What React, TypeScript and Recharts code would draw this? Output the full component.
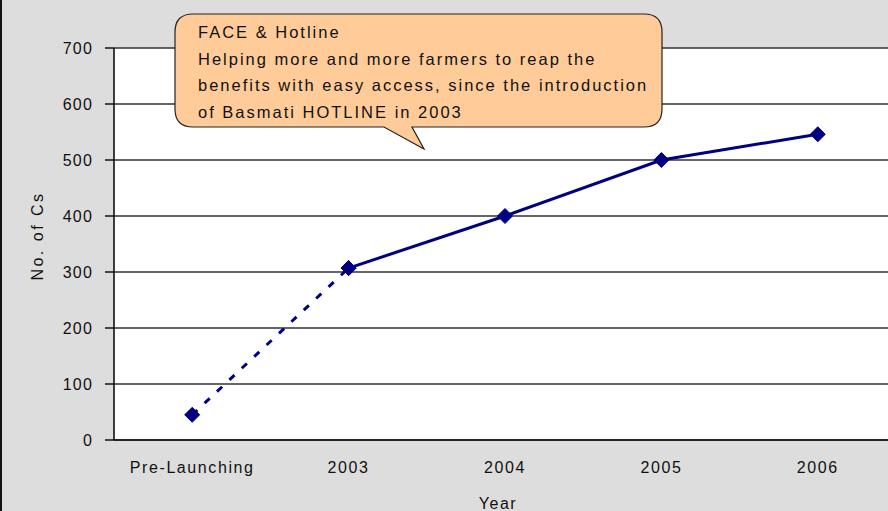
import React from "react";
import { LineChart, Line, XAxis, YAxis, CartesianGrid, Customized } from "recharts";

const categories = ["Pre-Launching", "2003", "2004", "2005", "2006"];
const farmers = [45, 307, 400, 500, 546];
const yTicks = [0, 100, 200, 300, 400, 500, 600, 700];
const calloutLines = [
  "FACE & Hotline",
  "Helping more and more farmers to reap the",
  "benefits with easy access, since the introduction",
  "of Basmati HOTLINE in 2003",
];

const NAVY = "#000080";
const FONT = "'Liberation Sans', Arial, sans-serif";

// index 1 (2003) is the launch: dashed before it, solid after
const data = categories.map((c, i) => ({
  x: i + 0.5,
  name: c,
  before: i <= 1 ? farmers[i] : null,
  after: i >= 1 ? farmers[i] : null,
}));

const Diamond = (props: any) => {
  const { cx, cy, value } = props;
  if (value == null || cx == null) return null;
  const r = 7.5;
  return (
    <path
      d={`M${cx},${cy - r}L${cx + r},${cy}L${cx},${cy + r}L${cx - r},${cy}Z`}
      fill={NAVY}
      stroke={NAVY}
    />
  );
};

const Callout = () => (
  <g>
    <path
      d="M191,14 L642,14 Q660,14 660,32 L660,109 Q660,127 642,127 L410,127 L422,149 L382,127 L191,127 Q173,127 173,109 L173,32 Q173,14 191,14 Z"
      fill="#FFCC99"
      stroke="#222"
      strokeWidth={1.2}
    />
    {calloutLines.map((t, i) => (
      <text
        key={i}
        x={196}
        y={38 + i * 26.5}
        fontFamily={FONT}
        fontSize={16.5}
        letterSpacing={2}
        fill="#111"
      >
        {t}
      </text>
    ))}
  </g>
);

export default function App() {
  return (
    <div
      style={{
        position: "absolute",
        left: 0,
        top: 0,
        width: 888,
        height: 511,
        overflow: "hidden",
        background: "#DDDDDD",
        borderLeft: "2px solid #111",
        boxSizing: "border-box",
      }}
    >
      <LineChart
        width={900}
        height={511}
        data={data}
        margin={{ top: 48, right: 6, bottom: 0, left: -2 }}
        style={{ fontFamily: FONT }}
      >
        <CartesianGrid vertical={false} fill="#ffffff" stroke="#333" strokeWidth={1.6} />
        <XAxis
          xAxisId="a_marks"
          dataKey="x"
          type="number"
          domain={[0, 5]}
          ticks={[0, 1, 2, 3, 4, 5]}
          tick={false}
          tickSize={6}
          height={8}
          axisLine={{ stroke: "#111", strokeWidth: 1.6 }}
          tickLine={{ stroke: "#111", strokeWidth: 1.5 }}
        />
        <XAxis
          xAxisId="b_labels"
          dataKey="x"
          type="number"
          domain={[0, 5]}
          ticks={data.map((d) => d.x)}
          tickFormatter={(v) => categories[Math.floor(v)]}
          axisLine={false}
          tickLine={false}
          height={63}
          tick={{ fill: "#111", fontSize: 16, letterSpacing: 1.6, dy: 6 }}
          label={{
            content: (p: any) => {
              const vb = p.viewBox;
              return (
                <text x={vb.x + vb.width / 2 - 7} y={vb.y + vb.height - 2} textAnchor="middle" fontSize={16} letterSpacing={1.5} fill="#111" fontFamily={FONT}>
                  Year
                </text>
              );
            },
          }}
        />
        <YAxis
          type="number"
          domain={[0, 700]}
          ticks={yTicks}
          width={114}
          tickSize={9}
          tickMargin={12}
          axisLine={{ stroke: "#111", strokeWidth: 1.6 }}
          tickLine={{ stroke: "#111", strokeWidth: 1.5 }}
          tick={{ fill: "#111", fontSize: 16, letterSpacing: 1.2 }}
          label={{
            content: (p: any) => {
              const vb = p.viewBox;
              const cx = 35;
              const cy = vb.y + vb.height / 2 - 8;
              return (
                <text x={cx} y={cy} transform={`rotate(-90 ${cx} ${cy})`} textAnchor="middle" dominantBaseline="central" fontSize={16} letterSpacing={2.5} fill="#111" fontFamily={FONT}>
                  No. of Cs
                </text>
              );
            },
          }}
        />
        <Line
          xAxisId="a_marks"
          dataKey="before"
          stroke={NAVY}
          strokeWidth={3}
          strokeDasharray="7 10"
          dot={<Diamond />}
          activeDot={false}
          isAnimationActive={false}
          connectNulls={false}
        />
        <Line
          xAxisId="a_marks"
          dataKey="after"
          stroke={NAVY}
          strokeWidth={3}
          dot={<Diamond />}
          activeDot={false}
          isAnimationActive={false}
          connectNulls={false}
        />
        <Customized component={<Callout />} />
      </LineChart>
    </div>
  );
}
